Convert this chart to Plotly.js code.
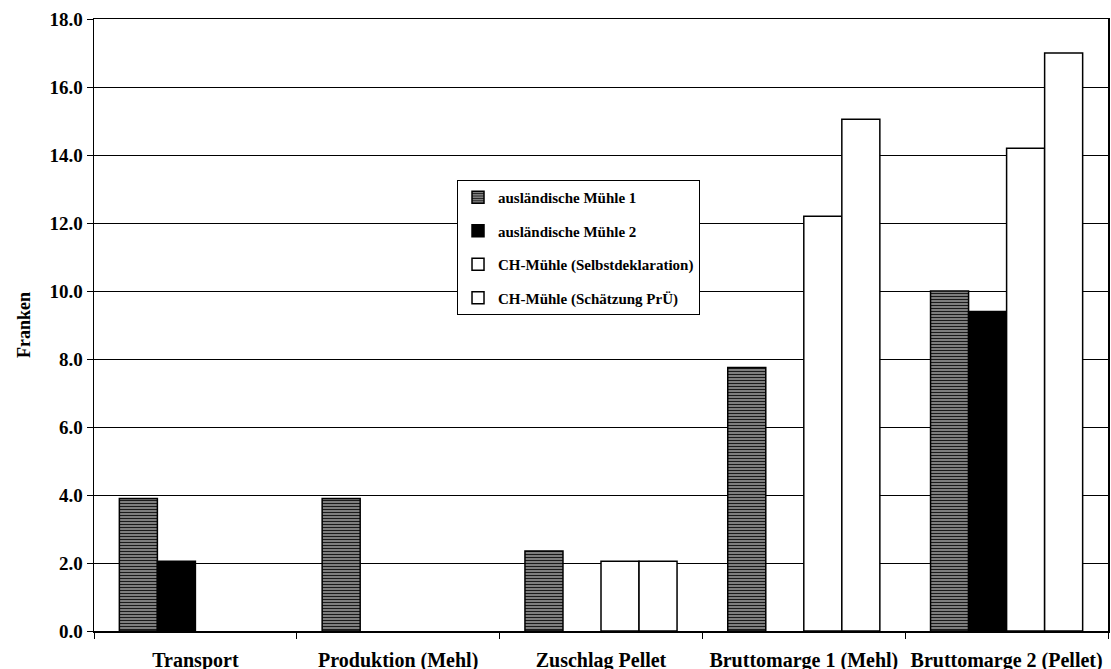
<!DOCTYPE html>
<html>
<head>
<meta charset="utf-8">
<script src="https://cdn.plot.ly/plotly-3.0.1.min.js"></script>
<style>html,body{margin:0;padding:0;background:#fff;}#chart{width:1111px;height:669px;}</style>
</head>
<body>
<div id="chart"></div>
<script>
const categories = ['Transport', 'Produktion (Mehl)', 'Zuschlag Pellet', 'Bruttomarge 1 (Mehl)', 'Bruttomarge 2 (Pellet)'];
const seriesNames = ['ausländische Mühle 1', 'ausländische Mühle 2', 'CH-Mühle (Selbstdeklaration)', 'CH-Mühle (Schätzung PrÜ)'];
const muehle1 = [3.9, 3.9, 2.35, 7.75, 10.0];
const muehle2 = [2.05, null, null, null, 9.4];
const chSelbst = [null, null, 2.05, 12.2, 14.2];
const chSchaetzung = [null, null, 2.05, 15.05, 17.0];
const yTicks = [0, 2, 4, 6, 8, 10, 12, 14, 16, 18];

const serif = 'Liberation Serif, Times New Roman, serif';
const outline = {color: '#000', width: 1.5};

const traces = [
  {name: seriesNames[0], y: muehle1, marker: {color: '#6e6e6e', line: outline,
    pattern: {shape: '-', fgcolor: '#1a1a1a', bgcolor: '#939393', size: 3, solidity: 0.45, fillmode: 'replace'}}},
  {name: seriesNames[1], y: muehle2, marker: {color: '#000', line: outline}},
  {name: seriesNames[2], y: chSelbst, marker: {color: '#fff', line: outline}},
  {name: seriesNames[3], y: chSchaetzung, marker: {color: '#fff', line: outline}}
].map(t => Object.assign({type: 'bar', x: categories, legendgroup: t.name, hoverinfo: 'x+y+name'}, t));

const layout = {
  width: 1111, height: 669,
  margin: {l: 94, r: 3, t: 19, b: 38},
  paper_bgcolor: '#fff', plot_bgcolor: '#fff',
  barmode: 'group', bargap: 0.25, bargroupgap: 0,
  font: {family: serif, color: '#000', weight: 'bold'},
  xaxis: {
    type: 'category', tickson: 'boundaries', ticks: 'outside', ticklen: 6, tickcolor: '#000', tickwidth: 1,
    showline: true, linecolor: '#000', linewidth: 1.5, mirror: true, showgrid: false,
    tickfont: {family: serif, size: 20, color: '#000', weight: 'bold'},
    ticklabelstandoff: 10, automargin: false
  },
  yaxis: {
    range: [0, 18], tickvals: yTicks, tickformat: '.1f', ticks: 'outside', ticklen: 6, tickcolor: '#000',
    showline: true, linecolor: '#000', linewidth: 1.5, mirror: true,
    showgrid: true, gridcolor: '#000', gridwidth: 1, zeroline: false,
    tickfont: {family: serif, size: 19, color: '#000', weight: 'bold'},
    title: {text: 'Franken', font: {family: serif, size: 18, color: '#000', weight: 'bold'}, standoff: 14},
    automargin: false
  },
  showlegend: true,
  legend: {
    x: 0.358, xanchor: 'left', y: 0.737, yanchor: 'top',
    bgcolor: '#fff', bordercolor: '#000', borderwidth: 1,
    font: {family: serif, size: 15, color: '#000', weight: 'bold'},
    traceorder: 'grouped', tracegroupgap: 11, itemwidth: 30
  }
};

Plotly.newPlot('chart', traces, layout, {displayModeBar: false, staticPlot: true});
</script>
</body>
</html>
